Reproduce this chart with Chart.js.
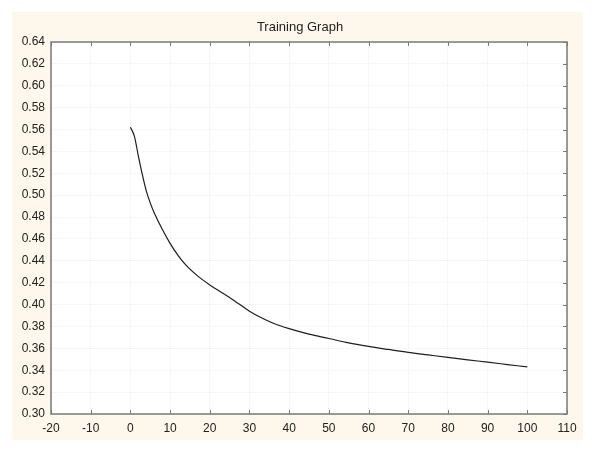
<!DOCTYPE html>
<html>
<head>
<meta charset="utf-8">
<script src="https://cdn.jsdelivr.net/npm/chart.js@4"></script>
<style>
  html, body { margin: 0; padding: 0; background: #ffffff; }
  #wrap { width: 600px; height: 456px; }
</style>
</head>
<body>
<div id="wrap"><canvas id="trainingChart" width="600" height="456"></canvas></div>
<script>
// valores
const epochs = [0, 1, 2, 3, 4, 5, 6, 8, 10, 12, 14, 17, 20, 23, 26, 30, 33, 36, 40, 45, 50, 55, 60, 65, 70, 75, 80, 85, 90, 95, 100];
const errorValues = [0.562, 0.554, 0.536, 0.519, 0.504, 0.493, 0.484, 0.469, 0.456, 0.445, 0.436, 0.426, 0.418, 0.411, 0.404, 0.394, 0.388, 0.383, 0.378, 0.373, 0.369, 0.365, 0.3618, 0.359, 0.3563, 0.354, 0.3517, 0.3495, 0.3474, 0.3452, 0.343];
const xTicks = { min: -20, max: 110, step: 10 };
const yTicks = { min: 0.30, max: 0.64, step: 0.02 };

const points = epochs.map((e, i) => ({ x: e, y: errorValues[i] }));

// fundo creme + área branca
const backgroundPlugin = {
  id: 'fundo',
  beforeDraw(chart) {
    const ctx = chart.ctx;
    const a = chart.chartArea;
    ctx.save();
    ctx.fillStyle = '#fdf8eb';
    ctx.fillRect(12, 12, 571, 428);
    ctx.fillStyle = '#ffffff';
    ctx.fillRect(a.left, a.top, a.right - a.left, a.bottom - a.top);
    ctx.restore();
  }
};

// moldura e marcas internas
const framePlugin = {
  id: 'moldura',
  afterDraw(chart) {
    const ctx = chart.ctx;
    const a = chart.chartArea;
    const sx = chart.scales.x, sy = chart.scales.y;
    ctx.save();
    ctx.strokeStyle = '#7a7a7a';
    ctx.lineWidth = 1.5;
    ctx.strokeRect(a.left, a.top, a.right - a.left, a.bottom - a.top);
    ctx.lineWidth = 1;
    ctx.beginPath();
    sx.ticks.forEach(t => {
      const px = Math.round(sx.getPixelForValue(t.value)) + 0.5;
      ctx.moveTo(px, a.bottom); ctx.lineTo(px, a.bottom - 4);
      ctx.moveTo(px, a.top); ctx.lineTo(px, a.top + 4);
    });
    sy.ticks.forEach(t => {
      const py = Math.round(sy.getPixelForValue(t.value)) + 0.5;
      ctx.moveTo(a.right, py); ctx.lineTo(a.right - 4, py);
    });
    ctx.stroke();
    ctx.restore();
  }
};

const ctx = document.getElementById('trainingChart').getContext('2d');
const trainingChart = new Chart(ctx, {
  type: 'scatter',
  data: {
    datasets: [{
      data: points,
      showLine: true,
      borderColor: '#1e1e1e',
      borderWidth: 1.2,
      pointRadius: 0,
      cubicInterpolationMode: 'monotone',
      fill: false
    }]
  },
  options: {
    responsive: false,
    animation: false,
    layout: { padding: { left: 0, right: 0, top: 20, bottom: 16 } },
    plugins: {
      legend: { display: false },
      tooltip: { enabled: false },
      title: {
        display: true,
        text: 'Training Graph',
        color: '#222',
        font: { family: 'Liberation Sans, Arial, sans-serif', size: 13, weight: 'normal', lineHeight: 1.1 },
        padding: { top: 0, bottom: 7.7 }
      }
    },
    scales: {
      x: {
        type: 'linear',
        min: xTicks.min,
        max: xTicks.max,
        afterFit(scale) { scale.height = 26; },
        ticks: {
          stepSize: xTicks.step,
          color: '#222',
          padding: 7,
          maxRotation: 0,
          font: { family: 'Liberation Sans, Arial, sans-serif', size: 12 }
        },
        grid: { color: 'rgba(0,0,0,0.06)', drawTicks: false },
        border: { display: false, dash: [1, 1] }
      },
      y: {
        type: 'linear',
        min: yTicks.min,
        max: yTicks.max,
        afterFit(scale) { scale.width = 51; },
        ticks: {
          stepSize: yTicks.step,
          color: '#222',
          padding: 6,
          callback: v => v.toFixed(2),
          font: { family: 'Liberation Sans, Arial, sans-serif', size: 12 }
        },
        grid: { color: 'rgba(0,0,0,0.06)', drawTicks: false },
        border: { display: false, dash: [1, 1] }
      },
      // eixo vazio só para reservar a margem da direita
      margemDireita: {
        type: 'linear',
        position: 'right',
        min: 0,
        max: 1,
        afterFit(scale) { scale.width = 33; },
        ticks: { display: false },
        grid: { display: false },
        border: { display: false }
      }
    }
  },
  plugins: [backgroundPlugin, framePlugin]
});
</script>
</body>
</html>
